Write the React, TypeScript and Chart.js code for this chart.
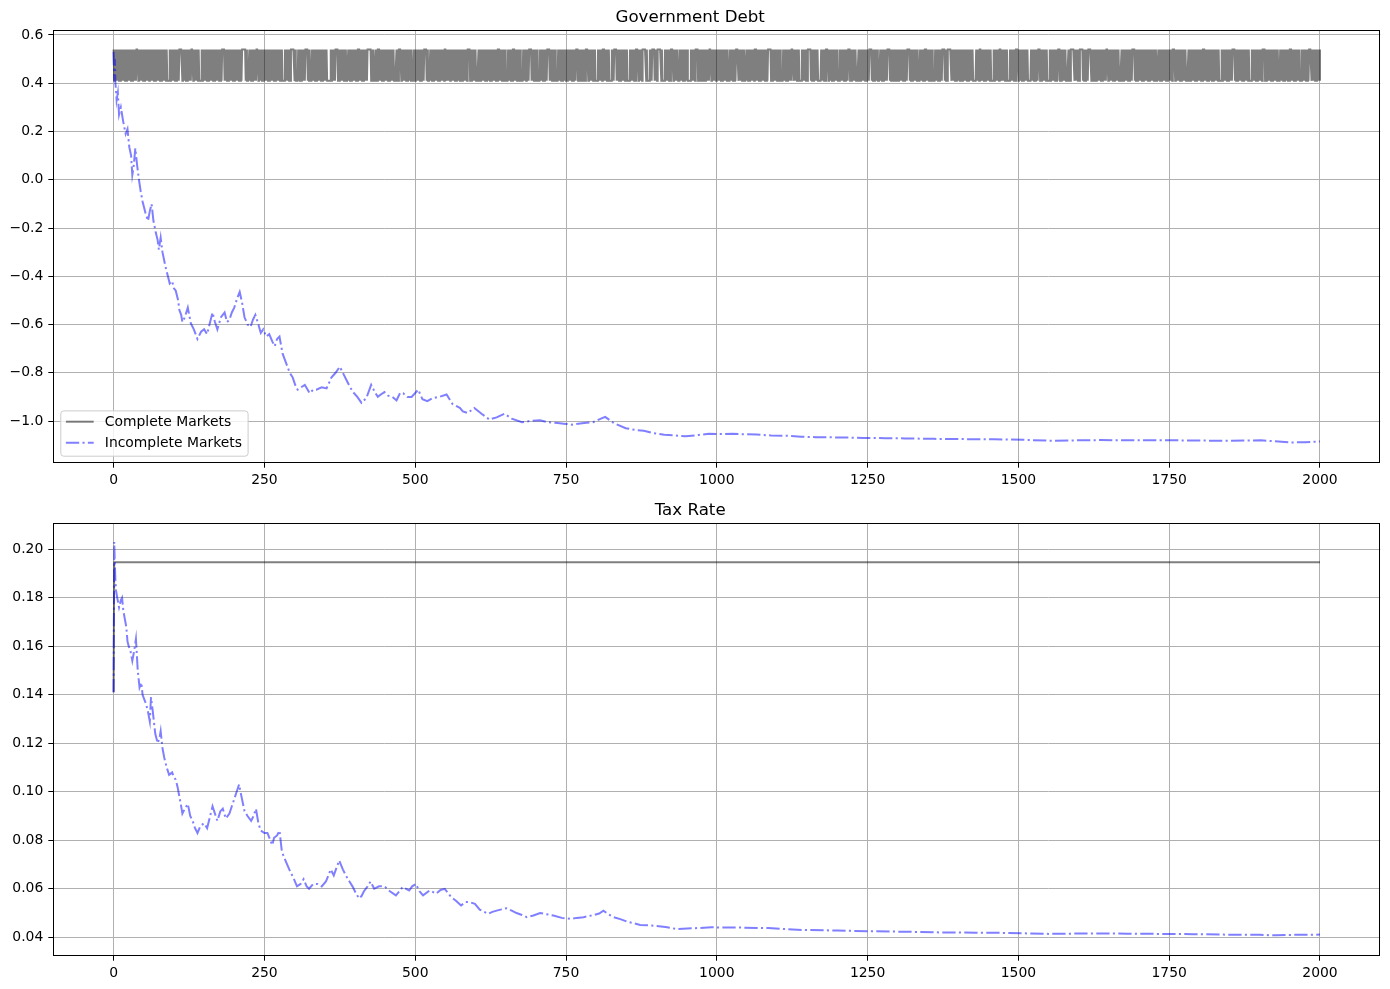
import { useEffect, useRef } from "react";
import { Chart, registerables } from "chart.js";

Chart.register(...registerables);

const FONT = "DejaVu Sans";
const lastPeriod = 2000;

const periodTicks = [0, 250, 500, 750, 1000, 1250, 1500, 1750, 2000];
const debtTicks = [-1.0, -0.8, -0.6, -0.4, -0.2, 0.0, 0.2, 0.4, 0.6];
const taxTicks = [0.04, 0.06, 0.08, 0.1, 0.12, 0.14, 0.16, 0.18, 0.2];

// complete markets debt jumps between two levels each period
const completeDebtLevels = [0.41, 0.54];
// stretches where it stays put (gaps in the band): [period, length, level]
const completeDebtHolds = [
  [38, 3, 1], [90, 3, 0], [109, 5, 1], [129, 3, 1], [143, 3, 0], [181, 3, 1],
  [214, 5, 1], [222, 3, 0], [237, 3, 1], [281, 3, 0], [295, 5, 1], [303, 3, 0],
  [319, 3, 1], [326, 3, 0], [355, 5, 0], [369, 3, 1], [386, 3, 0], [405, 3, 1],
  [422, 5, 1], [431, 3, 0], [438, 3, 1], [466, 3, 0], [474, 3, 1], [494, 3, 0],
  [516, 3, 1], [522, 3, 0], [549, 3, 1], [574, 3, 0], [588, 3, 1], [601, 4, 0],
  [637, 3, 1], [651, 3, 0], [662, 3, 1], [676, 3, 0], [690, 3, 1], [704, 3, 0],
  [720, 3, 1], [734, 3, 0], [767, 3, 1], [776, 3, 0], [784, 3, 1], [800, 3, 0],
  [811, 3, 1], [823, 3, 0], [831, 3, 1], [853, 3, 0], [867, 3, 1], [878, 5, 1],
  [886, 3, 0], [894, 3, 1], [903, 5, 1], [911, 3, 0], [925, 3, 1], [936, 3, 0],
  [952, 5, 0], [966, 3, 1], [975, 3, 0], [988, 3, 1], [1019, 3, 0], [1033, 3, 1],
  [1046, 3, 0], [1063, 3, 1], [1085, 5, 1], [1107, 3, 0], [1124, 3, 1], [1138, 3, 0],
  [1151, 5, 1], [1168, 5, 0], [1182, 3, 1], [1201, 3, 0], [1218, 3, 1], [1232, 3, 0],
  [1254, 3, 1], [1268, 3, 0], [1284, 3, 1], [1295, 3, 0], [1317, 3, 1], [1334, 3, 0],
  [1345, 3, 1], [1359, 3, 0], [1375, 3, 1], [1384, 5, 1], [1403, 3, 0], [1425, 5, 0],
  [1436, 3, 1], [1456, 3, 0], [1469, 3, 1], [1483, 3, 0], [1497, 3, 1], [1516, 5, 0],
  [1533, 3, 1], [1549, 3, 0], [1566, 3, 1], [1580, 3, 0], [1588, 5, 1], [1602, 5, 1],
  [1616, 5, 1], [1625, 3, 0], [1646, 3, 1], [1668, 3, 0], [1690, 3, 1], [1729, 3, 0],
  [1757, 3, 1], [1779, 3, 0], [1806, 3, 1], [1834, 3, 0], [1856, 3, 1], [1884, 3, 0],
  [1906, 3, 1], [1931, 3, 0], [1950, 3, 1], [1967, 3, 0], [1983, 3, 1],
];

// [period, value]
const incompleteDebt = [
  [0, 0.53], [1, 0.41], [2, 0.5], [3, 0.4], [4, 0.37], [5, 0.33], [7, 0.36], [9, 0.27],
  [12, 0.3], [16, 0.24], [20, 0.19], [23, 0.21], [26, 0.135], [29, 0.1], [31, 0.02],
  [33, 0.05], [36, 0.13], [39, 0.06], [42, 0.0], [45, -0.05], [48, -0.09], [53, -0.14],
  [57, -0.17], [60, -0.13], [63, -0.1], [66, -0.17], [70, -0.22], [73, -0.25], [75, -0.29],
  [78, -0.24], [81, -0.3], [86, -0.36], [90, -0.4], [93, -0.43], [97, -0.42], [100, -0.45],
  [103, -0.46], [107, -0.5], [109, -0.54], [112, -0.56], [114, -0.59], [118, -0.57],
  [123, -0.53], [128, -0.595], [133, -0.62], [139, -0.66], [145, -0.63], [150, -0.62],
  [155, -0.64], [160, -0.59], [164, -0.55], [168, -0.59], [172, -0.62], [178, -0.57],
  [184, -0.55], [188, -0.59], [192, -0.58], [196, -0.55], [200, -0.53], [205, -0.49],
  [209, -0.465], [213, -0.51], [217, -0.57], [222, -0.6], [227, -0.61], [231, -0.58],
  [235, -0.56], [240, -0.6], [244, -0.635], [248, -0.62], [253, -0.65], [258, -0.64],
  [263, -0.67], [267, -0.69], [271, -0.66], [275, -0.65], [280, -0.72], [286, -0.76],
  [292, -0.8], [297, -0.82], [301, -0.85], [305, -0.87], [311, -0.86], [317, -0.85],
  [325, -0.885], [331, -0.87], [336, -0.87], [345, -0.86], [353, -0.865], [361, -0.82],
  [368, -0.8], [375, -0.775], [380, -0.8], [386, -0.83], [392, -0.86], [397, -0.88],
  [404, -0.9], [411, -0.925], [419, -0.905], [427, -0.85], [433, -0.88], [438, -0.9],
  [443, -0.89], [449, -0.88], [455, -0.895], [462, -0.9], [469, -0.915], [475, -0.883],
  [480, -0.885], [487, -0.9], [494, -0.9], [505, -0.87], [512, -0.91], [520, -0.918],
  [529, -0.905], [540, -0.9], [552, -0.89], [562, -0.93], [574, -0.945], [579, -0.96],
  [587, -0.967], [598, -0.946], [610, -0.97], [623, -0.994], [635, -0.985], [648, -0.97],
  [660, -0.99], [677, -1.005], [690, -1.0], [707, -0.997], [720, -1.005], [736, -1.008],
  [750, -1.012], [761, -1.015], [780, -1.008], [795, -1.005], [808, -0.99], [815, -0.983],
  [830, -1.01], [849, -1.03], [865, -1.037], [879, -1.04], [895, -1.05], [913, -1.057],
  [930, -1.06], [948, -1.063], [970, -1.058], [987, -1.053], [1010, -1.054], [1026, -1.053],
  [1045, -1.055], [1066, -1.056], [1090, -1.06], [1115, -1.061], [1140, -1.065],
  [1164, -1.067], [1200, -1.068], [1243, -1.07], [1280, -1.071], [1312, -1.072],
  [1360, -1.074], [1410, -1.075], [1460, -1.076], [1509, -1.078], [1558, -1.082],
  [1600, -1.08], [1637, -1.079], [1670, -1.08], [1705, -1.08], [1755, -1.08], [1800, -1.081],
  [1853, -1.082], [1902, -1.08], [1951, -1.089], [1975, -1.088], [2000, -1.085],
];

const completeTax = [[0, 0.141], [1, 0.1946], [2000, 0.1946]];

const incompleteTax = [
  [0, 0.141], [1, 0.203], [2, 0.194], [3, 0.187], [4, 0.183], [6, 0.18], [9, 0.176],
  [12, 0.179], [14, 0.18], [16, 0.175], [18, 0.172], [21, 0.168], [23, 0.162], [25, 0.16],
  [28, 0.158], [31, 0.154], [34, 0.158], [37, 0.163], [40, 0.15], [43, 0.143], [46, 0.145],
  [48, 0.14], [51, 0.138], [54, 0.136], [57, 0.133], [60, 0.129], [62, 0.139], [65, 0.133],
  [69, 0.124], [73, 0.12], [76, 0.122], [78, 0.125], [81, 0.118], [84, 0.114], [88, 0.11],
  [92, 0.107], [97, 0.108], [100, 0.106], [103, 0.105], [106, 0.102], [109, 0.098],
  [112, 0.094], [114, 0.091], [118, 0.093], [123, 0.095], [127, 0.09], [131, 0.088],
  [135, 0.085], [139, 0.083], [144, 0.086], [150, 0.087], [155, 0.085], [160, 0.09],
  [164, 0.094], [168, 0.091], [172, 0.088], [177, 0.092], [181, 0.093], [186, 0.089],
  [192, 0.091], [196, 0.094], [200, 0.097], [204, 0.1], [208, 0.103], [212, 0.098],
  [217, 0.092], [222, 0.09], [228, 0.088], [232, 0.09], [236, 0.093], [240, 0.087],
  [244, 0.084], [250, 0.083], [255, 0.083], [263, 0.078], [266, 0.081], [271, 0.082],
  [275, 0.084], [279, 0.0752], [286, 0.071], [293, 0.067], [299, 0.064], [304, 0.061],
  [310, 0.062], [315, 0.064], [320, 0.061], [324, 0.06], [331, 0.062], [338, 0.062],
  [345, 0.061], [352, 0.063], [360, 0.068], [365, 0.0655], [370, 0.069], [374, 0.0717],
  [380, 0.068], [385, 0.0655], [391, 0.063], [396, 0.061], [402, 0.058], [407, 0.056],
  [411, 0.057], [415, 0.059], [421, 0.061], [426, 0.063], [432, 0.06], [440, 0.061],
  [449, 0.061], [458, 0.059], [468, 0.0573], [474, 0.059], [479, 0.0607], [490, 0.0593],
  [495, 0.061], [501, 0.062], [507, 0.059], [513, 0.0573], [524, 0.0593], [535, 0.058],
  [542, 0.0595], [549, 0.06], [555, 0.058], [560, 0.0565], [568, 0.055], [576, 0.0531],
  [583, 0.0545], [590, 0.0545], [599, 0.0538], [607, 0.0514], [614, 0.0505], [621, 0.0497],
  [628, 0.0505], [635, 0.051], [643, 0.0515], [651, 0.052], [660, 0.051], [668, 0.05],
  [677, 0.0492], [685, 0.0483], [696, 0.049], [707, 0.05], [718, 0.0495], [729, 0.049],
  [743, 0.048], [757, 0.0476], [768, 0.048], [779, 0.0483], [796, 0.0492], [805, 0.0498],
  [812, 0.051], [820, 0.0495], [829, 0.0483], [840, 0.0475], [851, 0.0465], [862, 0.0458],
  [873, 0.0451], [895, 0.0448], [915, 0.0442], [934, 0.0434], [960, 0.0437], [991, 0.0441],
  [1040, 0.044], [1085, 0.0438], [1142, 0.043], [1200, 0.0428], [1250, 0.0425],
  [1310, 0.0423], [1373, 0.042], [1430, 0.0419], [1481, 0.0418], [1552, 0.0414],
  [1624, 0.0416], [1680, 0.0415], [1732, 0.0414], [1790, 0.0413], [1840, 0.0411],
  [1900, 0.041], [1927, 0.0408], [1955, 0.041], [2000, 0.0411],
];

function buildCompleteDebt() {
  const pts: { x: number; y: number }[] = [];
  let level = 1;
  let h = 0;
  let holdLeft = 0;
  for (let t = 0; t <= lastPeriod; t++) {
    while (h < completeDebtHolds.length && completeDebtHolds[h][0] < t && holdLeft === 0) h++;
    if (holdLeft > 0) {
      holdLeft--;
    } else if (h < completeDebtHolds.length && completeDebtHolds[h][0] === t) {
      level = completeDebtHolds[h][2];
      holdLeft = completeDebtHolds[h][1] - 1;
      h++;
    } else if (t > 0) {
      level = 1 - level;
    }
    pts.push({ x: t, y: completeDebtLevels[level] });
  }
  return pts;
}

const toPoints = (rows: number[][]) => rows.map(([x, y]) => ({ x, y }));

const GRAY = "rgba(0,0,0,0.5)";
const BLUE = "rgba(0,0,255,0.5)";
const DASHDOT = [13.3, 3.3, 2.1, 3.3];

// axes frame on all four sides
const framePlugin = {
  id: "frame",
  afterDatasetsDraw(chart: any) {
    const { ctx, chartArea: a } = chart;
    ctx.save();
    ctx.strokeStyle = "#000";
    ctx.lineWidth = 1;
    const l = Math.round(a.left) + 0.5;
    const t = Math.round(a.top) + 0.5;
    const r = Math.round(a.right) - 0.5;
    const b = Math.round(a.bottom) - 0.5;
    ctx.strokeRect(l, t, r - l, b - t);
    ctx.restore();
  },
};

// matplotlib style legend in lower left of the plot
const legendPlugin = {
  id: "boxLegend",
  afterDraw(chart: any) {
    const { ctx, chartArea: a } = chart;
    const ds = chart.data.datasets;
    ctx.save();
    ctx.font = `13.9px "${FONT}"`;
    const textW = Math.max(...ds.map((d: any) => ctx.measureText(d.label).width));
    const x = a.left + 7;
    const bottom = a.bottom - 7;
    const h = 45.3;
    const w = 5.6 + 27.8 + 11.1 + textW + 5.6;
    const y = bottom - h;
    ctx.beginPath();
    ctx.roundRect(x + 0.5, y + 0.5, w, h, 3);
    ctx.fillStyle = "rgba(255,255,255,0.8)";
    ctx.fill();
    ctx.strokeStyle = "#cccccc";
    ctx.lineWidth = 1;
    ctx.stroke();
    ds.forEach((d: any, i: number) => {
      const cy = y + 11.3 + i * 21;
      ctx.beginPath();
      ctx.setLineDash(d.borderDash || []);
      ctx.strokeStyle = d.borderColor;
      ctx.lineWidth = d.borderWidth;
      ctx.moveTo(x + 5.6, cy);
      ctx.lineTo(x + 5.6 + 27.8, cy);
      ctx.stroke();
      ctx.setLineDash([]);
      ctx.fillStyle = "#000";
      ctx.textBaseline = "middle";
      ctx.textAlign = "left";
      ctx.fillText(d.label, x + 5.6 + 27.8 + 11.1, cy + 0.5);
    });
    ctx.restore();
  },
};

function makeOptions(title: string, yTicks: number[], yMin: number, yMax: number, digits: number) {
  return {
    animation: false,
    responsive: false,
    devicePixelRatio: 1,
    layout: { padding: { top: 8, right: 9.7, left: 0, bottom: 0 } },
    plugins: {
      legend: { display: false },
      tooltip: { enabled: false },
      title: {
        display: true,
        text: title,
        color: "#000",
        font: { family: FONT, size: 16.67, weight: "normal", lineHeight: 1.2 },
        padding: { top: 0, bottom: 2 },
      },
    },
    scales: {
      x: {
        type: "linear",
        min: -100,
        max: 2100,
        afterBuildTicks: (s: any) => {
          s.ticks = periodTicks.map((value) => ({ value }));
        },
        afterFit: (s: any) => {
          s.height = 31.3;
        },
        ticks: {
          color: "#000",
          padding: 4,
          maxRotation: 0,
          font: { family: FONT, size: 13.9 },
          callback: (v: any) => String(v),
        },
        grid: { color: "#b0b0b0", lineWidth: 1, tickLength: 5, tickColor: "#000", tickWidth: 1 },
        border: { display: false },
      },
      y: {
        type: "linear",
        min: yMin,
        max: yMax,
        afterBuildTicks: (s: any) => {
          s.ticks = yTicks.map((value) => ({ value }));
        },
        afterFit: (s: any) => {
          s.width = 53.3;
        },
        ticks: {
          color: "#000",
          padding: 5,
          font: { family: FONT, size: 13.9 },
          callback: (v: any) => Number(v).toFixed(digits).replace("-", "\u2212"),
        },
        grid: { color: "#b0b0b0", lineWidth: 1, tickLength: 5, tickColor: "#000", tickWidth: 1 },
        border: { display: false },
      },
    },
  } as any;
}

function lineSets(complete: { x: number; y: number }[], incomplete: { x: number; y: number }[]) {
  return [
    {
      label: "Complete Markets",
      data: complete,
      borderColor: GRAY,
      borderWidth: 2,
      pointRadius: 0,
      tension: 0,
      order: 2,
    },
    {
      label: "Incomplete Markets",
      data: incomplete,
      borderColor: BLUE,
      borderWidth: 2,
      borderDash: DASHDOT,
      pointRadius: 0,
      tension: 0,
      order: 1,
    },
  ];
}

export default function App() {
  const debtRef = useRef<HTMLCanvasElement>(null);
  const taxRef = useRef<HTMLCanvasElement>(null);

  useEffect(() => {
    Chart.defaults.font.family = FONT;
    const charts: Chart[] = [];
    if (debtRef.current) {
      charts.push(
        new Chart(debtRef.current, {
          type: "line",
          data: { datasets: lineSets(buildCompleteDebt(), toPoints(incompleteDebt)) as any },
          options: makeOptions("Government Debt", debtTicks, -1.1728, 0.6207, 1),
          plugins: [framePlugin, legendPlugin],
        })
      );
    }
    if (taxRef.current) {
      charts.push(
        new Chart(taxRef.current, {
          type: "line",
          data: { datasets: lineSets(toPoints(completeTax), toPoints(incompleteTax)) as any },
          options: makeOptions("Tax Rate", taxTicks, 0.03241, 0.2108, 2),
          plugins: [framePlugin],
        })
      );
    }
    return () => {
      charts.forEach((c) => c.destroy());
    };
  }, []);

  return (
    <div style={{ position: "absolute", left: 0, top: 0, width: 1390, height: 989, background: "#fff" }}>
      <canvas ref={debtRef} width={1390} height={494} style={{ position: "absolute", left: 0, top: 0 }} />
      <canvas ref={taxRef} width={1390} height={494} style={{ position: "absolute", left: 0, top: 493 }} />
    </div>
  );
}
